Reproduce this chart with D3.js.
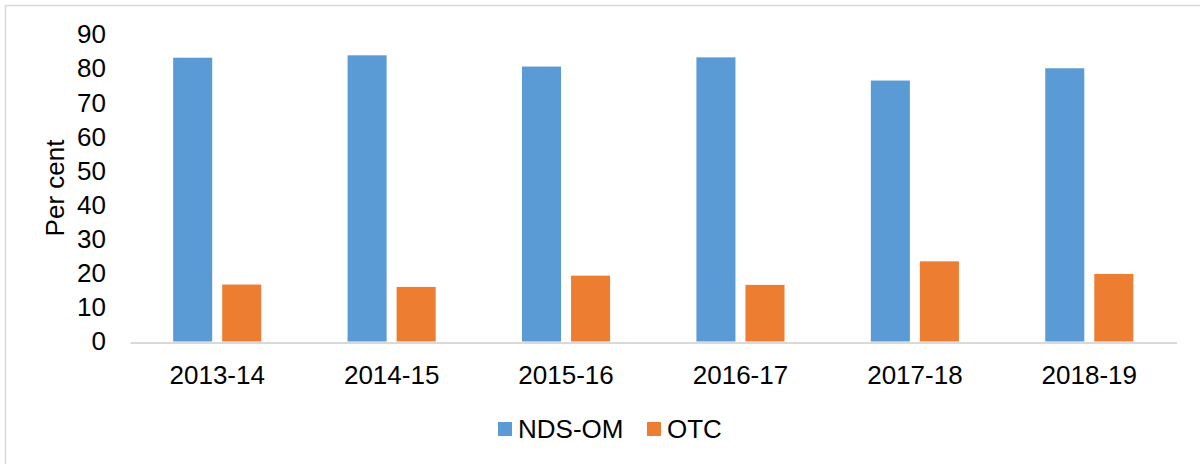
<!DOCTYPE html>
<html>
<head>
<meta charset="utf-8">
<script src="https://cdn.jsdelivr.net/npm/d3@7"></script>
<style>
  body { margin: 0; background: #fff; }
  text { font-family: "Liberation Sans", Arial, sans-serif; }
</style>
</head>
<body>
<div id="chart"></div>
<script>
// Data
const years = ["2013-14", "2014-15", "2015-16", "2016-17", "2017-18", "2018-19"];
const ndsom = [83.2, 83.9, 80.6, 83.3, 76.5, 80.1];
const otc = [16.7, 16.0, 19.3, 16.6, 23.5, 19.8];
const seriesNames = ["NDS-OM", "OTC"];
const yTicks = [0, 10, 20, 30, 40, 50, 60, 70, 80, 90];

const colors = { "NDS-OM": "#5B9BD5", "OTC": "#ED7D31" };
const width = 1200, height = 464;
const fontSize = 26;

const svg = d3.select("#chart")
    .append("svg")
    .attr("width", width)
    .attr("height", height);

// Chart frame (only top and left edges fall inside the picture)
svg.append("rect")
    .attr("x", 5.5).attr("y", 5.5)
    .attr("width", 1220).attr("height", 480)
    .attr("fill", "none")
    .attr("stroke", "#d9d9d9")
    .attr("stroke-width", 1.5);

// Scales
const x0 = d3.scaleBand().domain(years).range([130, 1176.5]);
const x1 = d3.scaleBand().domain(seriesNames)
    .range([0, x0.bandwidth()])
    .paddingInner(0.204)
    .paddingOuter(0.88);
const y = d3.scaleLinear().domain([0, 90]).range([341.5, 34.5]);

const rows = years.map((yr, i) => ({ year: yr, values: [
    { key: "NDS-OM", value: ndsom[i] },
    { key: "OTC", value: otc[i] }
] }));

// Bars
svg.append("g")
    .selectAll("g")
    .data(rows)
    .join("g")
    .attr("transform", d => `translate(${x0(d.year)},0)`)
    .selectAll("rect")
    .data(d => d.values)
    .join("rect")
    .attr("x", d => x1(d.key))
    .attr("width", x1.bandwidth())
    .attr("y", d => y(d.value))
    .attr("height", d => y(0) - y(d.value))
    .attr("fill", d => colors[d.key]);

// X axis
const xAxis = svg.append("g")
    .attr("transform", `translate(0,${y(0) + 1})`)
    .call(d3.axisBottom(x0).tickSize(0).tickSizeOuter(0).tickPadding(23));
xAxis.select(".domain").attr("stroke", "#d9d9d9").attr("stroke-width", 2);
xAxis.selectAll("text").attr("font-size", fontSize).attr("fill", "#000")
    .style("font-family", '"Liberation Sans", Arial, sans-serif');

// Y axis (labels only)
const yAxis = svg.append("g")
    .attr("transform", "translate(130,0)")
    .call(d3.axisLeft(y).tickValues(yTicks).tickSize(0).tickPadding(24));
yAxis.select(".domain").remove();
yAxis.selectAll("text").attr("font-size", fontSize).attr("fill", "#000")
    .style("font-family", '"Liberation Sans", Arial, sans-serif');

// Y axis title
svg.append("text")
    .attr("transform", "translate(64,188) rotate(-90)")
    .attr("text-anchor", "middle")
    .attr("font-size", fontSize)
    .attr("fill", "#000")
    .text("Per cent");

// Legend
const legendX = [498, 647];
const legend = svg.append("g")
    .selectAll("g")
    .data(seriesNames)
    .join("g")
    .attr("transform", (d, i) => `translate(${legendX[i]},422)`);
legend.append("rect")
    .attr("width", 14).attr("height", 14)
    .attr("fill", d => colors[d]);
legend.append("text")
    .attr("x", 20).attr("y", 7)
    .attr("dy", "0.35em")
    .attr("font-size", fontSize)
    .attr("fill", "#000")
    .text(d => d);
</script>
</body>
</html>
